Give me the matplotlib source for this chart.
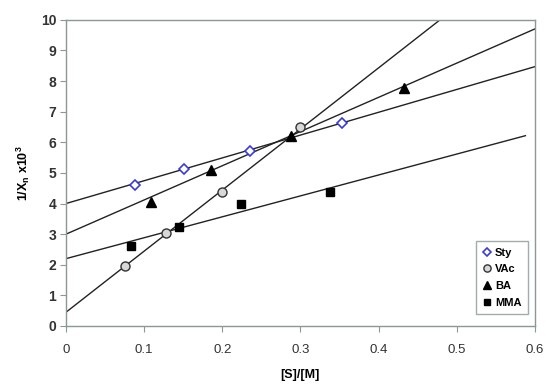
import numpy as np
import matplotlib
matplotlib.use("Agg")
import matplotlib.pyplot as plt

plt.rcParams["font.family"] = ["Liberation Sans", "DejaVu Sans"]

# ── data ─────────────────────────────────────────────────────────────────────
sty_x = [0.088, 0.151, 0.235, 0.353]
sty_y = [4.61, 5.13, 5.70, 6.62]

vac_x = [0.076, 0.128, 0.200, 0.300]
vac_y = [1.96, 3.03, 4.39, 6.49]

ba_x = [0.109, 0.186, 0.288, 0.433]
ba_y = [4.06, 5.10, 6.20, 7.78]

mma_x = [0.083, 0.144, 0.224, 0.338]
mma_y = [2.62, 3.22, 3.99, 4.37]

# trend lines (intercept, slope, x end)
trend_names = ["Sty", "VAc", "BA", "MMA"]
trend_icpt = [4.00, 0.45, 3.00, 2.20]
trend_slope = [7.45, 19.95, 11.17, 6.83]
trend_xend = [0.60, 0.60, 0.60, 0.588]

GRID = "#8c9898"

fig = plt.figure(figsize=(5.47, 3.92), dpi=100)
ax = fig.add_axes([0.1207, 0.1684, 0.857, 0.781])

for b, m, xe in zip(trend_icpt, trend_slope, trend_xend):
    xs = np.array([0.0, xe])
    ax.plot(xs, b + m * xs, color="#222222", lw=1.0, zorder=2)

ax.plot(sty_x, sty_y, ls="none", marker="D", ms=5.5, mfc="white", mec="#3a3ad8",
        mew=1.2, label="Sty", zorder=3)
ax.plot(vac_x, vac_y, ls="none", marker="o", ms=6.5, mfc="#d8d8d8", mec="#333333",
        mew=1.0, label="VAc", zorder=3)
ax.plot(ba_x, ba_y, ls="none", marker="^", ms=6.5, color="black", label="BA", zorder=3)
ax.plot(mma_x, mma_y, ls="none", marker="s", ms=6, color="black", label="MMA", zorder=3)

ax.set_xlim(0, 0.6)
ax.set_ylim(0, 10)
ax.set_xticks(np.arange(0, 0.61, 0.1))
ax.set_xticklabels(["0", "0.1", "0.2", "0.3", "0.4", "0.5", "0.6"])
ax.set_yticks(range(0, 11))

for s in ax.spines.values():
    s.set_color(GRID)
    s.set_linewidth(1.0)
ax.tick_params(axis="both", direction="out", length=4, color=GRID, colors="#333333")
ax.tick_params(axis="x", labelsize=9.5, pad=9)
ax.tick_params(axis="y", labelsize=10, pad=3)
for t in ax.get_yticklabels():
    t.set_fontweight("bold")

ax.set_xlabel("[S]/[M]", fontsize=9, fontweight="bold", labelpad=9)
ax.set_ylabel(r"1/X$_\mathregular{n}$ x10$^\mathregular{3}$", fontsize=9,
              fontweight="bold", labelpad=6)

leg = ax.legend(loc="lower right", bbox_to_anchor=(0.998, 0.02), markerscale=0.8,
                frameon=True, fancybox=False, handlelength=0.8, handletextpad=0.3,
                borderpad=0.6, labelspacing=0.6, prop={"weight": "bold", "size": 8})
leg.get_frame().set_edgecolor(GRID)
leg.get_frame().set_linewidth(1.0)

plt.savefig("out.png", dpi=100)
